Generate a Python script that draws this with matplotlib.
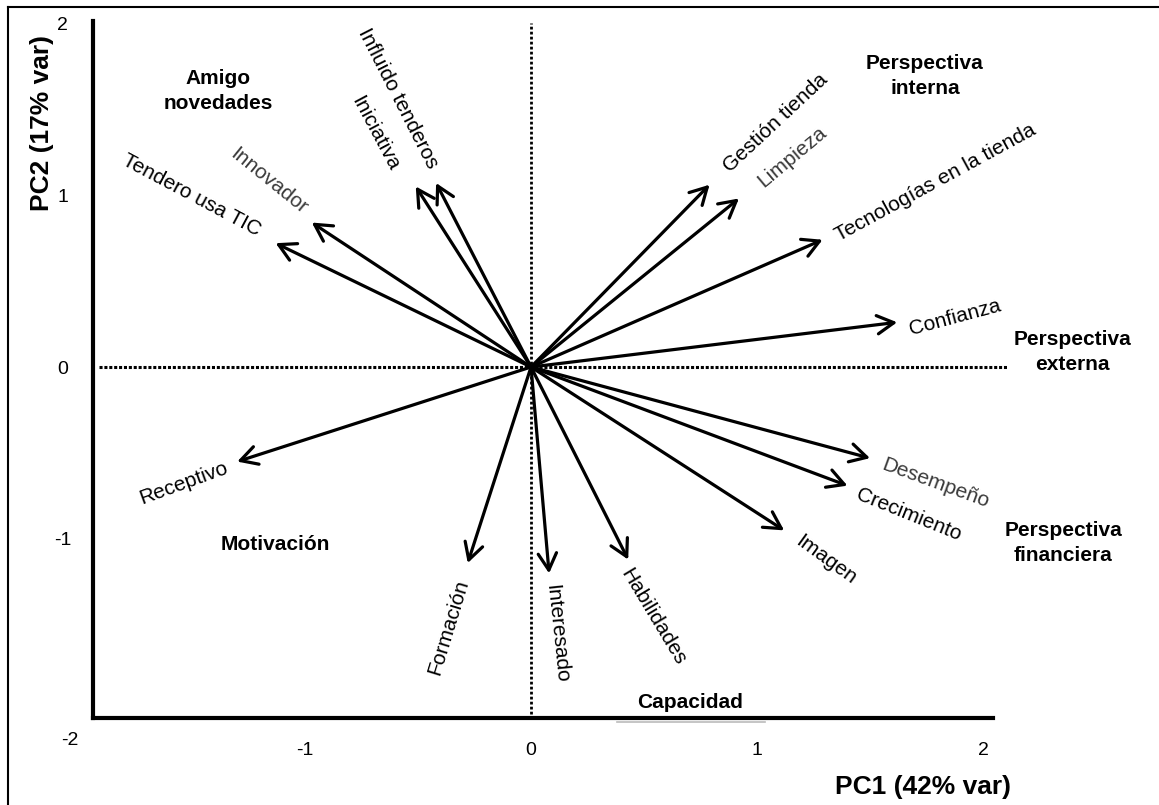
import matplotlib
matplotlib.use("Agg")
import matplotlib.pyplot as plt
from matplotlib.lines import Line2D

plt.rcParams['font.family'] = ['Liberation Sans', 'DejaVu Sans']

# Variable loadings (PC1, PC2)
variables = ["Tendero usa TIC", "Innovador", "Iniciativa", "Influido tenderos",
             "Gestión tienda", "Limpieza", "Tecnologías en la tienda", "Confianza",
             "Desempeño", "Crecimiento", "Imagen", "Habilidades", "Interesado",
             "Formación", "Receptivo"]
pc1 = [-1.13, -0.97, -0.51, -0.42, 0.79, 0.92, 1.29, 1.62,
       1.50, 1.40, 1.12, 0.43, 0.08, -0.28, -1.30]
pc2 = [0.72, 0.84, 1.05, 1.07, 1.06, 0.98, 0.74, 0.26,
       -0.53, -0.69, -0.95, -1.12, -1.20, -1.14, -0.55]

# Group labels
groups = ["Amigo\nnovedades", "Perspectiva\ninterna", "Perspectiva\nexterna",
          "Perspectiva\nfinanciera", "Motivación", "Capacidad"]

x_ticks = [-2, -1, 0, 1, 2]
y_ticks = [-1, 0, 1, 2]

# Label layout: (x, y, rotation, colour)
label_layout = [
    (-1.50, 1.00, -28, "black"),
    (-1.16, 1.08, -39, "#3a3a3a"),
    (-0.69, 1.36, -62, "black"),
    (-0.59, 1.56, -63, "black"),
    (1.08, 1.42, 43, "black"),
    (1.155, 1.22, 40, "#3a3a3a"),
    (1.79, 1.07, 28.6, "black"),
    (1.876, 0.29, 15, "black"),
    (1.79, -0.675, -20, "#3a3a3a"),
    (1.673, -0.86, -22, "black"),
    (1.305, -1.12, -36, "black"),
    (0.54, -1.453, -59, "black"),
    (0.115, -1.552, -84, "black"),
    (-0.367, -1.512, 73, "black"),
    (-1.535, -0.674, 20, "black"),
]
group_layout = [(-1.385, 1.605), (1.743, 1.692), (2.394, 0.087),
                (2.354, -1.023), (-1.133, -1.035), (0.704, -1.953)]

W, H = 1159, 805
fig = plt.figure(figsize=(W / 100, H / 100), dpi=100)

# axes box in pixels
L, R, T, B = 93, 993, 21, 718
ax = fig.add_axes([L / W, 1 - B / H, (R - L) / W, (B - T) / H])
ax.set_xlim(-1.938, 2.044)
ax.set_ylim(-2.041, 2.012)

for s in ("top", "right"):
    ax.spines[s].set_visible(False)
for s in ("left", "bottom"):
    ax.spines[s].set_linewidth(3)

ax.set_xticks([t for t in x_ticks if t > -1.938])
ax.set_xticklabels([str(t) for t in x_ticks if t > -1.938])
ax.set_yticks(y_ticks)
ax.set_yticklabels([str(t) for t in y_ticks])
ax.tick_params(axis='both', length=0, labelsize=14)
ax.tick_params(axis='x', pad=17)
for lab in ax.get_yticklabels():
    lab.set_horizontalalignment('center')
ax.tick_params(axis='y', pad=22)
# tick label for x = -2 sits left of the visible range
ax.text(x_ticks[0] - 0.04, -2.041, str(x_ticks[0]), fontsize=14, ha='center',
        va='top', clip_on=False,
        transform=ax.transData + matplotlib.transforms.ScaledTranslation(0, -14 / 100, fig.dpi_scale_trans))

# reference lines through the origin
ax.plot([-1.91, 2.11], [0, 0], color='black', lw=2.2, ls=(0, (1, 0.6)),
        clip_on=False, zorder=1)
ax.plot([0, 0], [-2.02, 2.0], color='black', lw=2.0, ls=(0, (1, 0.8)),
        clip_on=False, zorder=1)

# loading arrows
for x, y in zip(pc1, pc2):
    ax.annotate('', xy=(x, y), xytext=(0, 0),
                arrowprops=dict(arrowstyle='->,head_length=0.6,head_width=0.33',
                                mutation_scale=20, lw=2.3, color='black',
                                shrinkA=0, shrinkB=0), zorder=3)

for name, (lx, ly, rot, col) in zip(variables, label_layout):
    ax.text(lx, ly, name, fontsize=15, rotation=rot, rotation_mode='anchor',
            ha='center', va='center', color=col)

for g, (gx, gy) in zip(groups, group_layout):
    ax.text(gx, gy, g, fontsize=15, fontweight='bold', ha='center',
            va='center', linespacing=1.35, clip_on=False)

# grey rule under "Capacidad"
ax.plot([0.381, 1.035], [-2.064, -2.064], color='#bbbbbb', lw=1.2,
        clip_on=False)

# axis titles
fig.text(42 / W, 1 - 123 / H, "PC2 (17% var)", rotation=90, fontsize=19,
         fontweight='bold', ha='center', va='center')
fig.text(923 / W, 1 - 787 / H, "PC1 (42% var)", fontsize=19,
         fontweight='bold', ha='center', va='center')

# frame lines on top and left of the figure
fig.add_artist(Line2D([8 / W, 1], [1 - 7 / H, 1 - 7 / H], color='black', lw=1.5,
                      transform=fig.transFigure))
fig.add_artist(Line2D([8 / W, 8 / W], [0, 1 - 7 / H], color='black', lw=1.5,
                      transform=fig.transFigure))

fig.savefig("out.png", dpi=100, facecolor='white')
